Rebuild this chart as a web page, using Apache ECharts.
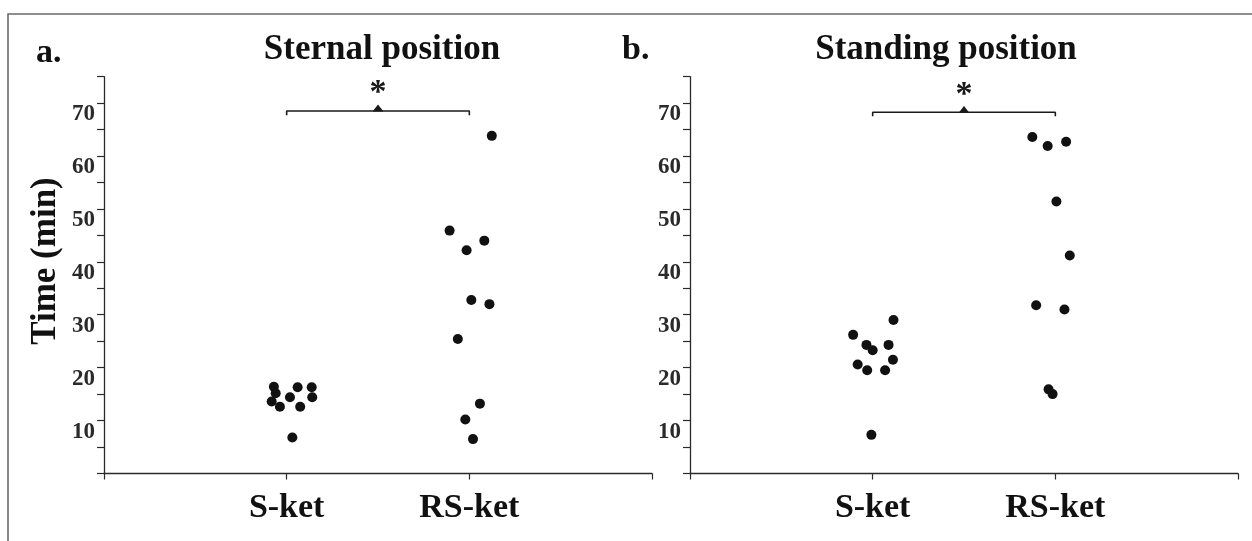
<!DOCTYPE html>
<html>
<head>
<meta charset="utf-8">
<script src="https://cdn.jsdelivr.net/npm/echarts@6/dist/echarts.min.js"></script>
<style>
  html, body { margin: 0; padding: 0; background: #fff; }
  #chart { width: 1252px; height: 541px; }
</style>
</head>
<body>
<div id="chart"></div>
<script>
// categories on the x axis (placed at x = 1 and x = 2)
const categories = ['S-ket', 'RS-ket']
const yTickLabels = [10, 20, 30, 40, 50, 60, 70]

// a. Sternal position — time (min), with horizontal jitter
const sternalS = [16.4, 15.15, 13.6, 12.6, 14.4, 16.3, 12.6, 16.3, 14.4, 6.8]
const sternalSX = [0.93, 0.94, 0.918, 0.963, 1.018, 1.06, 1.074, 1.137, 1.14, 1.031]
const sternalRS = [63.8, 45.9, 44.0, 42.2, 32.8, 32.0, 25.4, 13.2, 10.2, 6.5]
const sternalRSX = [2.123, 1.892, 2.082, 1.985, 2.011, 2.110, 1.937, 2.058, 1.978, 2.020]

// b. Standing position
const standingS = [29.0, 26.2, 24.3, 24.3, 23.3, 21.5, 20.6, 19.5, 19.5, 7.3]
const standingSX = [1.114, 0.893, 0.966, 1.087, 1.0, 1.111, 0.918, 0.970, 1.068, 0.993]
const standingRS = [63.6, 62.7, 61.9, 51.4, 41.2, 31.8, 31.0, 15.9, 15.0]
const standingRSX = [1.874, 2.059, 1.958, 2.006, 2.079, 1.895, 2.050, 1.963, 1.985]

// significance bracket (x from, x to, level) and marker level
const sternalSig = { from: 1, to: 2, level: 68.5, end: 67.7, mark: 69.05 }
const standingSig = { from: 1, to: 2, level: 68.25, end: 67.5, mark: 68.8 }

const serif = '"Liberation Serif", "Times New Roman", serif'
const ink = '#111'

const pairs = (xs, ys) => ys.map((v, i) => [xs[i], v])

function xAxisFor(gridIndex) {
  return {
    gridIndex: gridIndex,
    type: 'value',
    min: 0,
    max: 3,
    interval: 1,
    splitLine: { show: false },
    axisLine: { show: true, lineStyle: { color: '#2a2a2a', width: 1.3 } },
    axisTick: { show: true, length: 6, lineStyle: { color: '#2a2a2a', width: 1.2 } },
    axisLabel: {
      margin: 18,
      fontFamily: serif,
      fontWeight: 'bold',
      fontSize: 34,
      color: ink,
      formatter: (v) => categories[v - 1] || ''
    }
  }
}

function yAxisFor(gridIndex) {
  return {
    gridIndex: gridIndex,
    type: 'value',
    min: 0,
    max: 75,
    interval: 5,
    splitLine: { show: false },
    axisLine: { show: true, lineStyle: { color: '#2a2a2a', width: 1.3 } },
    axisTick: { show: true, length: 7, lineStyle: { color: '#2a2a2a', width: 1.2 } },
    axisLabel: {
      margin: 9,
      verticalAlign: 'top',
      fontFamily: serif,
      fontWeight: 'bold',
      fontSize: 23,
      color: '#2a2a2a',
      formatter: (v) => (yTickLabels.indexOf(v) >= 0 ? String(v) : '')
    }
  }
}

function dots(idx, data) {
  return {
    type: 'scatter',
    xAxisIndex: idx,
    yAxisIndex: idx,
    symbol: 'circle',
    symbolSize: 10,
    itemStyle: { color: ink, opacity: 1 },
    data: data
  }
}

function bracket(idx, sig) {
  return [
    {
      type: 'line',
      xAxisIndex: idx,
      yAxisIndex: idx,
      symbol: 'none',
      lineStyle: { color: '#1a1a1a', width: 1.6 },
      data: [[sig.from, sig.end], [sig.from, sig.level], [sig.to, sig.level], [sig.to, sig.end]]
    },
    {
      type: 'scatter',
      xAxisIndex: idx,
      yAxisIndex: idx,
      symbol: 'triangle',
      symbolSize: [11, 7],
      itemStyle: { color: '#1a1a1a', opacity: 1 },
      label: {
        show: true,
        position: 'top',
        distance: -6,
        formatter: '*',
        fontFamily: serif,
        fontWeight: 'bold',
        fontSize: 34,
        color: '#1a1a1a'
      },
      data: [[(sig.from + sig.to) / 2, sig.mark]]
    }
  ]
}

const chart = echarts.init(document.getElementById('chart'), null, { renderer: 'canvas' })

chart.setOption({
  animation: false,
  backgroundColor: '#fff',
  grid: [
    { left: 104, top: 76.6, width: 548, height: 396.9 },
    { left: 690, top: 76.6, width: 548, height: 396.9 }
  ],
  xAxis: [xAxisFor(0), xAxisFor(1)],
  yAxis: [yAxisFor(0), yAxisFor(1)],
  graphic: [
    {
      type: 'polyline',
      shape: { points: [[8, 541], [8, 14], [1252, 14]] },
      style: { stroke: '#6a6a6a', lineWidth: 1.6, fill: null }
    },
    {
      type: 'text', left: 36, top: 36,
      style: { text: 'a.', font: 'bold 34px ' + serif, fill: ink }
    },
    {
      type: 'text', left: 622, top: 33,
      style: { text: 'b.', font: 'bold 34px ' + serif, fill: ink }
    },
    {
      type: 'text', x: 382, y: 50,
      style: { text: 'Sternal position', font: 'bold 35px ' + serif, fill: ink, textAlign: 'center', textVerticalAlign: 'middle' }
    },
    {
      type: 'text', x: 946, y: 50,
      style: { text: 'Standing position', font: 'bold 35px ' + serif, fill: ink, textAlign: 'center', textVerticalAlign: 'middle' }
    },
    {
      type: 'text', x: 46, y: 261, rotation: Math.PI / 2,
      style: { text: 'Time (min)', font: 'bold 35px ' + serif, fill: ink, textAlign: 'center', textVerticalAlign: 'middle' }
    }
  ],
  series: [
    dots(0, pairs(sternalSX, sternalS)),
    dots(0, pairs(sternalRSX, sternalRS)),
    dots(1, pairs(standingSX, standingS)),
    dots(1, pairs(standingRSX, standingRS)),
    ...bracket(0, sternalSig),
    ...bracket(1, standingSig)
  ]
})
</script>
</body>
</html>
